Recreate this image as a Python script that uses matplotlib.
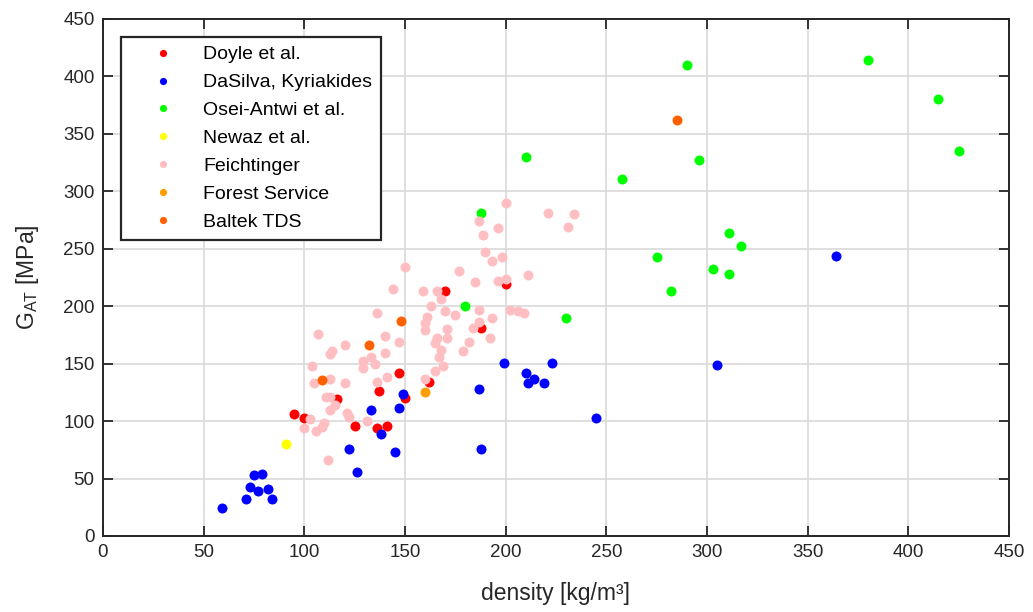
import matplotlib.pyplot as plt

plt.rcParams['font.family'] = ['Liberation Sans', 'DejaVu Sans']
plt.rcParams['mathtext.fontset'] = 'custom'
plt.rcParams['mathtext.rm'] = 'Liberation Sans'
plt.rcParams['mathtext.it'] = 'Liberation Sans:italic'

# shear modulus vs. core density, grouped by source
doyle_x = [95, 100, 116, 125, 136, 141, 137, 147, 150, 162, 170, 200, 188]
doyle_y = [106, 103, 119, 96, 94, 96, 126, 142, 120, 134, 213, 219, 181]

dasilva_x = [59, 71, 73, 77, 82, 84, 75, 79, 122, 126, 133, 138, 145, 147, 149,
             187, 188, 199, 210, 214, 211, 219, 223, 245, 364, 305]
dasilva_y = [24, 32, 43, 39, 41, 32, 53, 54, 76, 56, 110, 89, 73, 111, 124,
             128, 76, 151, 142, 137, 133, 133, 151, 103, 244, 149]

osei_x = [290, 380, 415, 425, 296, 258, 311, 317, 275, 303, 311, 282, 230, 210, 188, 180]
osei_y = [410, 414, 380, 335, 327, 311, 264, 252, 243, 232, 228, 213, 190, 330, 281, 200]

newaz_x = [91]
newaz_y = [80]

feicht_x = [150, 144, 159, 166, 168, 163, 170, 175, 177, 185, 136, 161, 160, 160, 171,
            166, 171, 165, 168, 179, 182, 184, 187, 189, 107, 120, 140, 147, 114, 113,
            140, 133, 167, 129, 135, 129, 104, 113, 105, 120, 136, 141, 160, 165, 169,
            111, 113, 115, 113, 121, 122, 103, 100, 106, 110, 109, 131, 112, 200, 196,
            190, 193, 198, 196, 200, 211, 187, 193, 202, 206, 209, 187, 192, 221, 234,
            231]
feicht_y = [234, 215, 213, 213, 206, 200, 196, 192, 231, 221, 194, 191, 185, 179, 180,
            172, 172, 168, 162, 161, 169, 181, 274, 262, 176, 166, 174, 169, 161, 158,
            159, 156, 156, 152, 150, 146, 148, 137, 133, 133, 134, 138, 137, 144, 148,
            121, 121, 114, 110, 107, 104, 102, 94, 91, 98, 95, 100, 66, 290, 268,
            247, 239, 243, 222, 224, 227, 197, 190, 197, 196, 194, 186, 172, 281, 280,
            269]

forest_x = [160]
forest_y = [125]

baltek_x = [285, 148, 132, 109]
baltek_y = [362, 187, 166, 136]

groups = [
    ("Doyle et al.", doyle_x, doyle_y, (1.0, 0.0, 0.0)),
    ("DaSilva, Kyriakides", dasilva_x, dasilva_y, (0.0, 0.0, 1.0)),
    ("Osei-Antwi et al.", osei_x, osei_y, (0.0, 1.0, 0.0)),
    ("Newaz et al.", newaz_x, newaz_y, (1.0, 1.0, 0.0)),
    ("Feichtinger", feicht_x, feicht_y, (1.0, 0.75, 0.76)),
    ("Forest Service", forest_x, forest_y, (1.0, 0.62, 0.0)),
    ("Baltek TDS", baltek_x, baltek_y, (1.0, 0.38, 0.0)),
]

dark = (0.15, 0.15, 0.15)

fig = plt.figure(figsize=(10.33, 6.12), dpi=100)
ax = fig.add_axes([0.0997, 0.1242, 0.877, 0.8448])

for label, xs, ys, color in groups:
    ax.plot(xs, ys, linestyle='none', marker='o', markersize=7.2,
            markeredgewidth=0, color=color, label=label)

ax.set_xlim(0, 450)
ax.set_ylim(0, 450)
ax.set_xticks(range(0, 451, 50))
ax.set_yticks(range(0, 451, 50))
ax.grid(True, color=(0.85, 0.85, 0.85), linewidth=1.2)
ax.set_axisbelow(True)
ax.tick_params(direction='in', length=7, width=1.3, colors=dark,
               labelsize=13.5, top=True, right=True, pad=6)
for sp in ax.spines.values():
    sp.set_color(dark)
    sp.set_linewidth(1.4)

ax.set_xlabel("density [kg/m³]", fontsize=16.5, color=dark, labelpad=15)
ax.set_ylabel("G$_{\\mathrm{AT}}$ [MPa]", fontsize=16.5, color=dark, labelpad=16)

leg = ax.legend(loc='upper left', bbox_to_anchor=(0.0199, 0.965), borderaxespad=0,
                fontsize=14, markerscale=0.72, handlelength=3.4, handletextpad=0.37,
                borderpad=0.45, labelspacing=0.53, fancybox=False, framealpha=1)
leg.get_frame().set_edgecolor(dark)
leg.get_frame().set_linewidth(1.6)

fig.savefig("out.png", dpi=100)
